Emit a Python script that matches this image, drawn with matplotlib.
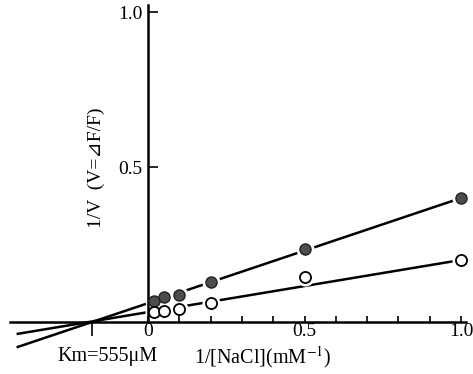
import matplotlib
matplotlib.use("Agg")
import matplotlib.pyplot as plt

# data
inv_nacl = [0.02, 0.05, 0.1, 0.2, 0.5, 1.0]
filled_inv_v = [0.068, 0.081, 0.087, 0.129, 0.235, 0.40]
open_inv_v = [0.032, 0.035, 0.042, 0.061, 0.145, 0.20]

# fitted lines (end points)
fit_x = [-0.42, 1.0]
fit_filled = [-0.082, 0.40]
fit_open = [-0.039, 0.20]

x_ticks = [0, 0.1, 0.2, 0.3, 0.4, 0.5, 0.6, 0.7, 0.8, 0.9, 1.0]
x_tick_labels = ["0", "", "", "", "", "0.5", "", "", "", "", "1.0"]
y_ticks = [0.5, 1.0]
y_tick_labels = ["0.5", "1.0"]
km_tick = [-0.18]

plt.rcParams["font.family"] = ["Liberation Serif", "DejaVu Serif", "DejaVu Sans"]
plt.rcParams["mathtext.fontset"] = "stix"

fig = plt.figure(figsize=(4.73, 3.74), dpi=100)
ax = fig.add_axes([0, 0, 1, 1])
ax.set_xlim(-0.473, 1.038)
ax.set_ylim(-0.168, 1.039)

# regression lines
ax.plot(fit_x, fit_filled, color="black", lw=1.8, zorder=1, solid_capstyle="butt")
ax.plot(fit_x, fit_open, color="black", lw=1.8, zorder=1, solid_capstyle="butt")

# white halo round the markers so the lines break near them
for ys in (filled_inv_v, open_inv_v):
    ax.plot(inv_nacl, ys, ls="none", marker="o", ms=13, mfc="white",
            mec="none", zorder=1.5)

ax.plot(inv_nacl, filled_inv_v, ls="none", marker="o", ms=8, mfc="#4d4d4d",
        mec="#222222", mew=1.0, zorder=3)
ax.plot(inv_nacl, open_inv_v, ls="none", marker="o", ms=8, mfc="white",
        mec="black", mew=1.3, zorder=3)

# axes through the origin
for side in ("top", "right"):
    ax.spines[side].set_visible(False)
ax.spines["left"].set_position(("data", 0))
ax.spines["bottom"].set_position(("data", 0))
ax.spines["left"].set_bounds(0, 1.023)
ax.spines["bottom"].set_bounds(-0.44, 1.016)
for side in ("left", "bottom"):
    ax.spines[side].set_linewidth(1.8)

ax.set_xticks(x_ticks)
ax.set_xticklabels(x_tick_labels, fontsize=14)
ax.set_xticks(km_tick, minor=True)
ax.tick_params(axis="x", which="major", direction="in", length=4.5, width=1.2, pad=1)
ax.tick_params(axis="x", which="minor", direction="out", length=10, width=1.2)

ax.set_yticks(y_ticks)
ax.set_yticklabels(y_tick_labels, fontsize=14)
ax.tick_params(axis="y", direction="in", length=7, width=1.2, pad=4)

ax.text(-0.166, 0.497, "1/V  (V=⊿F/F)", rotation=90, fontsize=14,
        ha="center", va="center")
ax.text(-0.131, -0.112, "Km=555μM", fontsize=14.5, ha="center", va="center")
ax.text(0.367, -0.112, r"1/[NaCl](mM$^{-1}$)", fontsize=14.5, ha="center",
        va="center")

fig.savefig("out.png", dpi=100)
